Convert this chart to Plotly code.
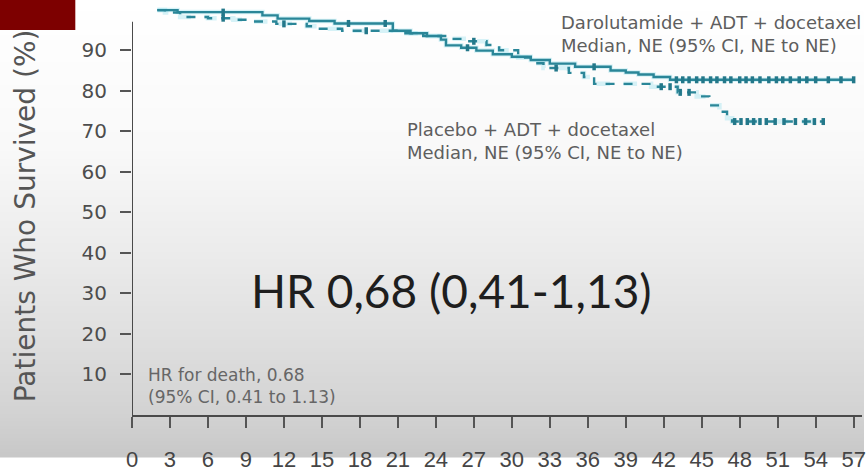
import plotly.graph_objects as go

# Kaplan-Meier step points: (month, % surviving after the step)
daro_months = [2.0, 3.6, 10.3, 11.5, 14.0, 16.0, 20.6, 22.0, 23.3, 24.4, 24.8, 26.0, 27.2,
               28.5, 30.0, 31.5, 33.0, 35.0, 37.8, 39.0, 40.0, 41.2, 42.5, 57.0]
daro_surv = [99.9, 99.4, 98.6, 97.8, 97.2, 96.6, 94.8, 94.2, 93.5, 92.6, 91.2, 90.6, 89.9,
             89.0, 88.4, 87.6, 86.7, 85.9, 85.0, 84.5, 84.0, 83.4, 82.7, 82.7]

plac_months = [2.0, 2.6, 3.8, 6.0, 8.0, 9.3, 11.4, 13.8, 14.6, 16.6, 21.5, 23.0, 25.0, 26.5,
               28.0, 29.0, 30.5, 31.5, 32.5, 34.5, 35.7, 36.5, 41.0, 43.1, 44.6, 45.6, 46.4,
               47.0, 47.4, 54.6]
plac_surv = [99.9, 99.3, 98.2, 97.9, 97.5, 97.1, 96.5, 95.9, 95.3, 94.8, 94.2, 93.5, 92.8, 92.2,
             91.3, 90.0, 88.2, 86.8, 85.6, 84.4, 83.4, 81.7, 81.0, 79.6, 78.6, 76.4, 74.8,
             73.2, 72.4, 72.4]

# censoring times (tick marks on the curves)
daro_censor = [7.2, 17.1, 20.0, 26.5, 36.5, 43.0, 43.5, 44.0, 44.6, 45.1, 45.7, 46.2, 46.8,
               47.3, 48.0, 48.5, 49.0, 49.6, 50.3, 50.9, 51.4, 52.0, 52.7, 53.3, 54.0, 55.0,
               56.0, 57.0]
plac_censor = [7.2, 12.0, 18.5, 27.0, 33.5, 41.8, 42.5, 43.3, 44.0, 47.6, 48.1, 48.6, 49.1,
               49.6, 50.1, 50.8, 51.5, 52.4, 53.2, 53.9, 54.6]

x_ticks = list(range(0, 58, 3))
y_ticks = [10, 20, 30, 40, 50, 60, 70, 80, 90]

W, H = 866, 472
ML, MB = 132, 43
PW, PH = W - ML, H - MB

CURVE = "#2a8698"
HALO = "rgba(140,220,235,0.35)"


def xp(px):
    return (px - ML) / PW


def yp(py):
    return (PH - py) / PH


def step_value(months, surv, t):
    val = surv[0]
    for m, s in zip(months, surv):
        if m <= t:
            val = s
    return val


fig = go.Figure()

for months, surv, dash in [(daro_months, daro_surv, "solid"), (plac_months, plac_surv, "dash")]:
    fig.add_trace(go.Scatter(x=months, y=surv, mode="lines", line_shape="hv",
                             line=dict(color=HALO, width=4.5, dash=dash),
                             hoverinfo="skip", showlegend=False))
for months, surv, dash, name in [(daro_months, daro_surv, "solid", "Darolutamide"),
                                 (plac_months, plac_surv, "dash", "Placebo")]:
    fig.add_trace(go.Scatter(x=months, y=surv, mode="lines", line_shape="hv",
                             line=dict(color=CURVE, width=2.4, dash=dash),
                             name=name, showlegend=False))

for months, surv, cens in [(daro_months, daro_surv, daro_censor), (plac_months, plac_surv, plac_censor)]:
    fig.add_trace(go.Scatter(x=cens, y=[step_value(months, surv, t) for t in cens],
                             mode="markers",
                             marker=dict(symbol="line-ns", size=5,
                                         line=dict(color="#23788a", width=3.5)),
                             hoverinfo="skip", showlegend=False))

# background: soft vertical fade from white to light grey
stops = [(0, 255), (150, 249), (250, 237), (350, 223), (430, 210), (472, 200)]


def shade(py):
    for (a, ca), (b, cb) in zip(stops[:-1], stops[1:]):
        if a <= py <= b:
            return ca + (cb - ca) * (py - a) / (b - a)
    return stops[-1][1]


shapes = []
band = 4
for i in range(0, H, band):
    g = int(round(shade(i + band / 2)))
    shapes.append(dict(type="rect", xref="paper", yref="paper", layer="below",
                       x0=xp(-2), x1=xp(W + 2), y0=yp(i + band + 1), y1=yp(i),
                       fillcolor=f"rgb({g},{g},{g})", line=dict(width=0)))

# y-axis line
shapes.append(dict(type="line", xref="x", yref="y", x0=0, x1=0, y0=0, y1=97,
                   line=dict(color="#4a4a4a", width=2), layer="above"))
# red corner block
shapes.append(dict(type="rect", xref="paper", yref="paper", layer="above",
                   x0=xp(-2), x1=xp(75), y0=yp(31), y1=yp(-2),
                   fillcolor="#7d0000", line=dict(width=0)))

annotations = [
    dict(text="Darolutamide + ADT + docetaxel<br>Median, NE (95% CI, NE to NE)",
         x=xp(561), y=yp(35), xanchor="left", yanchor="middle", align="left",
         font=dict(family="DejaVu Sans", size=18, color="#5e5e5e")),
    dict(text="Placebo + ADT + docetaxel<br>Median, NE (95% CI, NE to NE)",
         x=xp(406), y=yp(146), xanchor="left", yanchor="middle", align="left",
         font=dict(family="DejaVu Sans", size=18, color="#5e5e5e")),
    dict(text="HR for death, 0.68<br>(95% CI, 0.41 to 1.13)",
         x=xp(146), y=yp(399), xanchor="left", yanchor="middle", align="left",
         font=dict(family="DejaVu Sans", size=17, color="#666666")),
    dict(text="HR 0,68 (0,41-1,13)",
         x=xp(250), y=yp(300), xanchor="left", yanchor="middle", align="left",
         font=dict(family="Lato", size=46, color="#1e1e1e")),
    dict(text="Patients Who Survived (%)", textangle=-90,
         x=xp(25), y=yp(223), xanchor="center", yanchor="middle",
         font=dict(family="DejaVu Sans", size=28, color="#555555")),
]
for a in annotations:
    a.update(xref="paper", yref="paper", showarrow=False)

fig.update_layout(
    width=W, height=H,
    margin=dict(l=ML, r=0, t=0, b=MB),
    paper_bgcolor="white",
    plot_bgcolor="rgba(0,0,0,0)",
    shapes=shapes,
    annotations=annotations,
    xaxis=dict(range=[0, PW / 12.73], tickvals=x_ticks, ticktext=[str(v) for v in x_ticks],
               ticks="outside", ticklen=11, tickwidth=2, tickcolor="#555555",
               showline=True, linecolor="#4a4a4a", linewidth=2,
               showgrid=False, zeroline=False, ticklabelstandoff=13,
               ticklabeloverflow="allow",
               tickfont=dict(family="Liberation Sans Narrow, Liberation Sans", size=22, color="#454545")),
    yaxis=dict(range=[0, PH / 4.19], tickvals=y_ticks,
               ticks="outside", ticklen=11, tickwidth=2, tickcolor="#555555",
               showline=False, showgrid=False, zeroline=False, ticklabelstandoff=9,
               tickfont=dict(family="DejaVu Sans", size=20, color="#4d4d4d")),
)

fig.write_html("out.html")
